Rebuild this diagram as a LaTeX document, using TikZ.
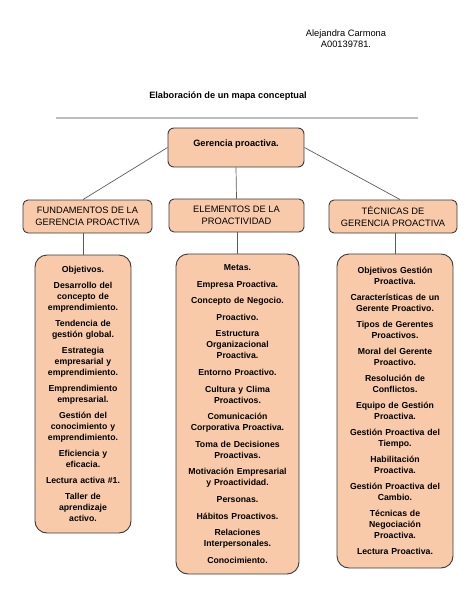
\documentclass[tikz,border=0pt]{standalone}
\usepackage{fontspec}
\setmainfont{Liberation Sans}
\definecolor{peach}{HTML}{F8CAAA}
\definecolor{edge}{HTML}{3A3A3A}
\definecolor{conn}{HTML}{5A5A5A}
\definecolor{rule}{HTML}{BDBDBD}
\begin{document}
\begin{tikzpicture}[x=1pt,y=-1pt,
  boxbase/.style={draw=edge, fill=peach, line width=0.9pt, inner sep=2pt, align=center},
  topbox/.style={boxbase, rounded corners=6pt, font=\fontsize{9.2}{11}\selectfont\bfseries},
  headbox/.style={boxbase, rounded corners=5pt, font=\fontsize{9.3}{11.7}\selectfont},
  listbox/.style={boxbase, rounded corners=12pt, font=\fontsize{8.7}{11}\selectfont\bfseries},
  link/.style={draw=conn, line width=0.7pt},
  plain/.style={inner sep=0pt, align=center}
]
\useasboundingbox (0,0) rectangle (474,613);

\node[plain, font=\fontsize{9.3}{11}\selectfont] (author) at (346,39) {Alejandra Carmona\\A00139781.};
\node[plain, font=\fontsize{9.2}{11}\selectfont\bfseries] (title) at (228,96) {Elaboración de un mapa conceptual};
\coordinate (ruleL) at (56,118);
\coordinate (ruleR) at (418,118);
\draw[rule, line width=1.2pt] (ruleL) -- (ruleR);

\node[topbox, minimum width=136pt, minimum height=39pt, text depth=8pt] (top) at (236,147.5) {Gerencia proactiva.};

\node[headbox, minimum width=129pt, minimum height=33pt] (h1) at (87.5,216.5) {FUNDAMENTOS DE LA\\GERENCIA PROACTIVA};
\node[headbox, minimum width=135pt, minimum height=33pt] (h2) at (236.5,215.5) {ELEMENTOS DE LA\\PROACTIVIDAD};
\node[headbox, minimum width=128pt, minimum height=33pt] (h3) at (393,216.5) {TÉCNICAS DE\\GERENCIA PROACTIVA};

\node[listbox, minimum width=96pt, text width=92pt, minimum height=278pt] (b1) at (83,394) {%
Objetivos.\\[5pt]
Desarrollo del\\concepto de\\emprendimiento.\\[5pt]
Tendencia de\\gestión global.\\[5pt]
Estrategia\\empresarial y\\emprendimiento.\\[5pt]
Emprendimiento\\empresarial.\\[5pt]
Gestión del\\conocimiento y\\emprendimiento.\\[5pt]
Eficiencia y\\eficacia.\\[5pt]
Lectura activa \#1.\\[5pt]
Taller de\\aprendizaje\\activo.};

\node[listbox, minimum width=123pt, text width=119pt, minimum height=320pt] (b2) at (237.5,414) {%
Metas.\\[5.6pt]
Empresa Proactiva.\\[5.6pt]
Concepto de Negocio.\\[5.6pt]
Proactivo.\\[5.6pt]
Estructura\\Organizacional\\Proactiva.\\[5.6pt]
Entorno Proactivo.\\[5.6pt]
Cultura y Clima\\Proactivos.\\[5.6pt]
Comunicación\\Corporativa Proactiva.\\[5.6pt]
Toma de Decisiones\\Proactivas.\\[5.6pt]
Motivación Empresarial\\y Proactividad.\\[5.6pt]
Personas.\\[5.6pt]
Hábitos Proactivos.\\[5.6pt]
Relaciones\\Interpersonales.\\[5.6pt]
Conocimiento.};

\node[listbox, minimum width=116pt, text width=112pt, minimum height=314pt] (b3) at (395,411) {%
Objetivos Gestión\\Proactiva.\\[5pt]
Características de un\\Gerente Proactivo.\\[5pt]
Tipos de Gerentes\\Proactivos.\\[5pt]
Moral del Gerente\\Proactivo.\\[5pt]
Resolución de\\Conflictos.\\[5pt]
Equipo de Gestión\\Proactiva.\\[5pt]
Gestión Proactiva del\\Tiempo.\\[5pt]
Habilitación\\Proactiva.\\[5pt]
Gestión Proactiva del\\Cambio.\\[5pt]
Técnicas de\\Negociación\\Proactiva.\\[5pt]
Lectura Proactiva.};

\draw[link] (top.west) -- (h1.north -| b1.north);
\draw[link] (top.south) -- (h2.north);
\draw[link] (top.east) -- ([xshift=5pt]h3.north -| b3.north);
\draw[link] (h1.south -| b1.north) -- (b1.north);
\draw[link] (h2.south -| b2.north) -- (b2.north);
\draw[link] (h3.south -| b3.north) -- (b3.north);
\end{tikzpicture}
\end{document}
